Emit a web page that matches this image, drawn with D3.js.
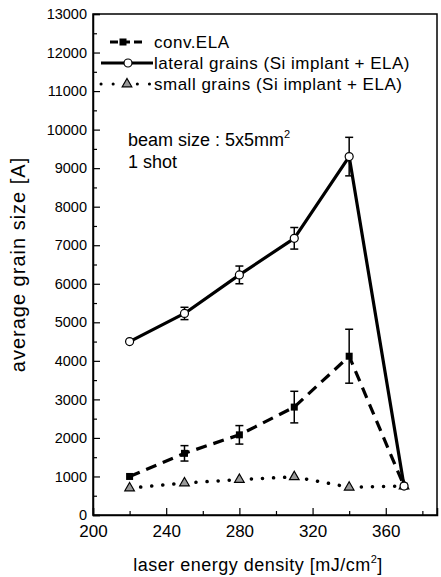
<!DOCTYPE html>
<html>
<head>
<meta charset="utf-8">
<script src="https://cdn.jsdelivr.net/npm/d3@7"></script>
<style>
  body { margin: 0; background: #fff; }
  text { font-family: "Liberation Sans", Arial, sans-serif; fill: #000; }
</style>
</head>
<body>
<div class="chart"></div>
<script>
var energy = [220, 250, 280, 310, 340, 370];

var convELA = [1000, 1600, 2080, 2800, 4120, 750];
var convErr = [0, 200, 240, 410, 700, 0];

var lateral = [4500, 5230, 6230, 7180, 9300, 750];
var lateralErr = [0, 160, 230, 280, 500, 0];

var small = [700, 830, 920, 990, 720, 750];

var xTicks = [200, 240, 280, 320, 360];
var yTicks = [0, 1000, 2000, 3000, 4000, 5000, 6000, 7000, 8000, 9000, 10000, 11000, 12000, 13000];

var legendLabels = ["conv.ELA", "lateral grains (Si implant + ELA)", "small grains (Si implant + ELA)"];

var margin = {top: 14, right: 4, bottom: 62, left: 93},
    width = 441 - margin.left - margin.right,
    height = 577 - margin.top - margin.bottom;

var svg = d3.select(".chart")
  .append("svg")
    .attr("width", 441)
    .attr("height", 577)
  .append("g")
    .attr("transform", "translate(" + margin.left + "," + margin.top + ")");

var x = d3.scaleLinear().domain([200, 388]).range([0, width]);
var y = d3.scaleLinear().domain([0, 13000]).range([height, 0]);

// minor ticks
svg.append("g")
    .attr("transform", "translate(0," + height + ")")
    .call(d3.axisBottom(x).tickValues(d3.range(220, 388, 40)).tickSize(-4).tickFormat(""))
    .call(function(g) { g.select(".domain").remove(); });
svg.append("g")
    .call(d3.axisLeft(y).tickValues(d3.range(500, 13000, 1000)).tickSize(-4).tickFormat(""))
    .call(function(g) { g.select(".domain").remove(); });

var xaxis = svg.append("g")
    .attr("transform", "translate(0," + height + ")")
    .call(d3.axisBottom(x).tickValues(xTicks).tickFormat(d3.format("d")).tickSize(-7).tickPadding(10));
xaxis.selectAll("text").attr("font-size", "17px");

var yaxis = svg.append("g")
    .call(d3.axisLeft(y).tickValues(yTicks).tickFormat(d3.format("d")).tickSize(-7).tickPadding(6));
yaxis.selectAll("text").attr("font-size", "14.5px");

svg.selectAll(".domain").attr("stroke-width", 1.5);
svg.selectAll(".tick line").attr("stroke-width", 1.2);

// frame
svg.append("rect")
    .attr("width", width).attr("height", height)
    .attr("fill", "none").attr("stroke", "#000").attr("stroke-width", 1.5);

function series(vals) {
  return vals.map(function(v, i) { return {x: energy[i], y: v}; });
}

var line = d3.line()
    .x(function(d) { return x(d.x); })
    .y(function(d) { return y(d.y); });

// error bars
function errBars(vals, errs) {
  var g = svg.append("g");
  vals.forEach(function(v, i) {
    if (!errs[i]) return;
    var cx = x(energy[i]);
    g.append("line").attr("x1", cx).attr("x2", cx)
      .attr("y1", y(v - errs[i])).attr("y2", y(v + errs[i]))
      .attr("stroke", "#000").attr("stroke-width", 1.5);
    [v - errs[i], v + errs[i]].forEach(function(e) {
      g.append("line").attr("x1", cx - 4).attr("x2", cx + 4)
        .attr("y1", y(e)).attr("y2", y(e))
        .attr("stroke", "#000").attr("stroke-width", 1.5);
    });
  });
}
errBars(convELA, convErr);
errBars(lateral, lateralErr);

svg.append("path").datum(series(small))
    .attr("fill", "none").attr("stroke", "#000").attr("stroke-width", 3.5)
    .attr("stroke-linecap", "round").attr("stroke-dasharray", "0.1,11")
    .attr("d", line);

svg.append("path").datum(series(convELA))
    .attr("fill", "none").attr("stroke", "#000").attr("stroke-width", 3.2)
    .attr("stroke-dasharray", "11,7")
    .attr("d", line);

svg.append("path").datum(series(lateral))
    .attr("fill", "none").attr("stroke", "#000").attr("stroke-width", 3.2)
    .attr("stroke-linejoin", "round")
    .attr("d", line);

var tri = d3.symbol().type(d3.symbolTriangle).size(40);

svg.append("g").selectAll("path")
    .data(series(small)).enter().append("path")
    .attr("transform", function(d) { return "translate(" + x(d.x) + "," + y(d.y) + ")"; })
    .attr("d", tri)
    .attr("fill", "#999").attr("stroke", "#000").attr("stroke-width", 1.2);

svg.append("g").selectAll("rect")
    .data(series(convELA)).enter().append("rect")
    .attr("x", function(d) { return x(d.x) - 3.5; })
    .attr("y", function(d) { return y(d.y) - 3.5; })
    .attr("width", 7).attr("height", 7)
    .attr("fill", "#000");

svg.append("g").selectAll("circle")
    .data(series(lateral)).enter().append("circle")
    .attr("cx", function(d) { return x(d.x); })
    .attr("cy", function(d) { return y(d.y); })
    .attr("r", 4)
    .attr("fill", "#fff").attr("stroke", "#000").attr("stroke-width", 1.2);

// legend
var legend = svg.append("g").attr("transform", "translate(8,28)");
legendLabels.forEach(function(lab, i) {
  var gy = i * 21;
  var l = legend.append("line").attr("x1", i === 0 ? 9 : 0).attr("x2", i === 0 ? 44 : 52)
      .attr("y1", gy).attr("y2", gy).attr("stroke", "#000");
  if (i === 0) l.attr("stroke-width", 3).attr("stroke-dasharray", "8,4");
  if (i === 1) l.attr("stroke-width", 3);
  if (i === 2) l.attr("stroke-width", 3).attr("stroke-linecap", "round").attr("stroke-dasharray", "0.1,12");
  if (i === 0) legend.append("rect").attr("x", 18.5).attr("y", gy - 3.5).attr("width", 7).attr("height", 7).attr("fill", "#000");
  if (i === 1) legend.append("circle").attr("cx", 27).attr("cy", gy).attr("r", 4)
      .attr("fill", "#fff").attr("stroke", "#000").attr("stroke-width", 1.2);
  if (i === 2) legend.append("path").attr("transform", "translate(26," + gy + ")").attr("d", tri)
      .attr("fill", "#999").attr("stroke", "#000").attr("stroke-width", 1.2);
  legend.append("text").attr("x", 53).attr("y", gy + 6)
      .attr("font-size", "17px").attr("letter-spacing", "0.5px").text(lab);
});

// annotation
var ann = svg.append("text").attr("x", 35).attr("y", 132).attr("font-size", "18px");
ann.append("tspan").text("beam size : 5x5mm");
ann.append("tspan").attr("font-size", "11px").attr("dy", -8).text("2");
svg.append("text").attr("x", 35).attr("y", 154).attr("font-size", "18px").text("1 shot");

// axis titles
var xt = svg.append("text").attr("x", width / 2 - 7).attr("y", height + 56)
    .attr("text-anchor", "middle").attr("font-size", "18px").attr("letter-spacing", "0.5px");
xt.append("tspan").text("laser energy density [mJ/cm");
xt.append("tspan").attr("font-size", "11px").attr("dy", -8).text("2");
xt.append("tspan").attr("dy", 8).text("]");

svg.append("text")
    .attr("transform", "translate(" + (-68) + "," + (height / 2) + ") rotate(-90)")
    .attr("text-anchor", "middle").attr("font-size", "20px").attr("letter-spacing", "1px")
    .text("average grain size [A]");
</script>
</body>
</html>
